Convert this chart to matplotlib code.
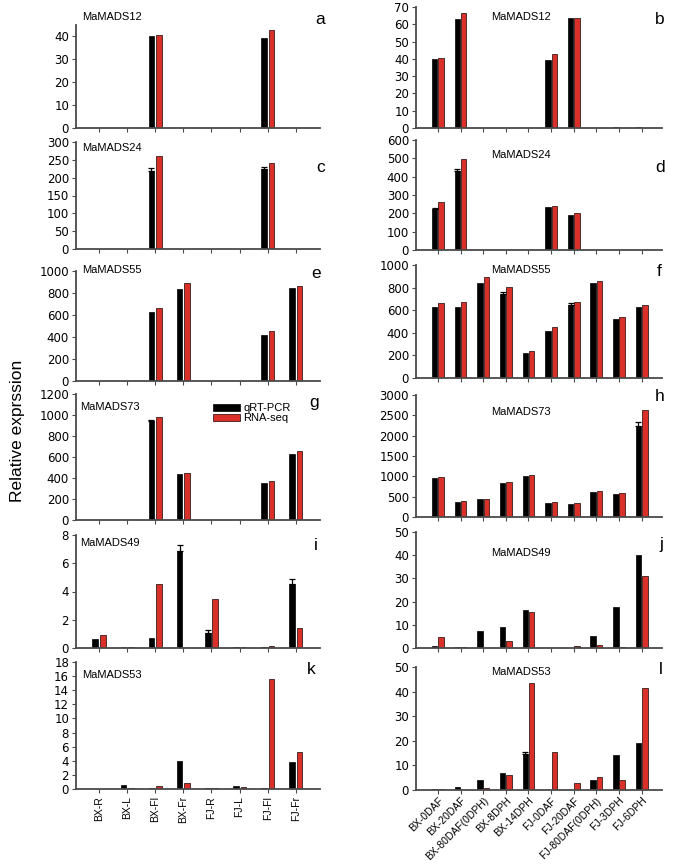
import matplotlib.pyplot as plt
import numpy as np

plt.rcParams['font.family'] = ['Liberation Sans', 'DejaVu Sans']

tissues = ["BX-R", "BX-L", "BX-Fl", "BX-Fr", "FJ-R", "FJ-L", "FJ-Fl", "FJ-Fr"]
stages = ["BX-0DAF", "BX-20DAF", "BX-80DAF(0DPH)", "BX-8DPH", "BX-14DPH",
          "FJ-0DAF", "FJ-20DAF", "FJ-80DAF(0DPH)", "FJ-3DPH", "FJ-6DPH"]

# tissues (left column): qRT-PCR, qRT-PCR error, RNA-seq
m12_t_q = [0.1, 0.1, 40, 0.1, 0.1, 0.1, 39.5, 0.1]
m12_t_e = [0, 0, 0, 0, 0, 0, 0, 0]
m12_t_r = [0.1, 0.1, 40.5, 0.1, 0.1, 0.1, 43, 0.1]
m24_t_q = [0.5, 0.5, 218, 0.5, 0.5, 0.5, 225, 0.5]
m24_t_e = [0, 0, 8, 0, 0, 0, 6, 0]
m24_t_r = [0.5, 0.5, 260, 0.5, 0.5, 0.5, 242, 0.5]
m55_t_q = [2, 1, 625, 840, 2, 1, 420, 845]
m55_t_e = [0, 0, 0, 0, 0, 0, 0, 0]
m55_t_r = [1, 1, 665, 895, 1, 1, 455, 862]
m73_t_q = [1, 1, 940, 435, 1, 1, 350, 625]
m73_t_e = [0, 0, 15, 0, 0, 0, 0, 0]
m73_t_r = [1, 1, 985, 450, 1, 1, 375, 655]
m49_t_q = [0.65, 0.05, 0.7, 6.85, 1.05, 0.05, 0.08, 4.5]
m49_t_e = [0, 0, 0, 0.45, 0.25, 0, 0, 0.4]
m49_t_r = [0.9, 0.05, 4.55, 0.0, 3.5, 0.05, 0.15, 1.45]
m53_t_q = [0.0, 0.5, 0.2, 3.9, 0.15, 0.4, 0.1, 3.85]
m53_t_e = [0, 0, 0, 0, 0, 0, 0, 0]
m53_t_r = [0.0, 0.2, 0.45, 0.8, 0.1, 0.25, 15.6, 5.3]

# developmental stages (right column)
m12_s_q = [40, 63, 0.1, 0.1, 0.1, 39.5, 63.5, 0.1, 0.3, 0.3]
m12_s_e = [0, 0, 0, 0, 0, 0, 0, 0, 0, 0]
m12_s_r = [40.5, 66.5, 0.1, 0.1, 0.1, 43, 63.5, 0.1, 0.1, 0.1]
m24_s_q = [222, 432, 1, 1, 1, 232, 190, 1, 1, 1]
m24_s_e = [8, 10, 0, 0, 0, 0, 0, 0, 0, 0]
m24_s_r = [260, 495, 1, 1, 1, 242, 202, 1, 1, 1]
m55_s_q = [625, 625, 840, 745, 220, 420, 650, 840, 525, 630]
m55_s_e = [0, 0, 0, 15, 0, 0, 10, 0, 0, 0]
m55_s_r = [665, 670, 895, 805, 235, 455, 672, 862, 540, 648]
m73_s_q = [960, 370, 435, 840, 1010, 350, 325, 620, 560, 2250]
m73_s_e = [0, 0, 0, 0, 0, 0, 0, 0, 0, 80]
m73_s_r = [990, 400, 450, 860, 1045, 375, 335, 650, 590, 2640]
m49_s_q = [0.7, 0.5, 7.4, 8.9, 16.4, 0.1, 0.1, 5.0, 17.7, 40]
m49_s_e = [0, 0, 0, 0, 0, 0, 0, 0, 0, 0]
m49_s_r = [4.6, 0.5, 0.0, 2.9, 15.4, 0.1, 0.9, 1.4, 0.3, 31]
m53_s_q = [0.3, 1.2, 4.0, 7.0, 14.5, 0.1, 0.1, 4.0, 14.2, 19]
m53_s_e = [0, 0, 0, 0, 1.0, 0, 0, 0, 0, 0]
m53_s_r = [0.5, 0.2, 0.8, 6.0, 43.5, 15.5, 2.8, 5.3, 4.2, 41.3]

W, H = 675, 864
fig = plt.figure(figsize=(W / 100, H / 100), dpi=100)

def add_ax(x0, x1, top, bottom):
    return fig.add_axes([x0 / W, 1 - bottom / H, (x1 - x0) / W, (bottom - top) / H])

def px_text(x, y, s, **kw):
    return fig.text(x / W, 1 - y / H, s, **kw)

# axes top/bottom (px), ylim, yticks, gene, letter, gene label pos, letter pos
left = [
    (25, 128, 45, np.arange(0, 41, 10), "MaMADS12", "a", (82, 17), (325, 20), m12_t_q, m12_t_e, m12_t_r),
    (142, 249, 300, np.arange(0, 301, 50), "MaMADS24", "c", (82, 148), (325, 168), m24_t_q, m24_t_e, m24_t_r),
    (271, 381, 1000, np.arange(0, 1001, 200), "MaMADS55", "e", (82, 270), (321, 273), m55_t_q, m55_t_e, m55_t_r),
    (394, 520, 1200, np.arange(0, 1201, 200), "MaMADS73", "g", (80, 407), (319, 402), m73_t_q, m73_t_e, m73_t_r),
    (535, 648, 8, np.arange(0, 9, 2), "MaMADS49", "i", (80, 543), (318, 545), m49_t_q, m49_t_e, m49_t_r),
    (662, 789, 18, np.arange(0, 19, 2), "MaMADS53", "k", (82, 675), (316, 670), m53_t_q, m53_t_e, m53_t_r),
]
right = [
    (7, 128, 70, np.arange(0, 71, 10), "MaMADS12", "b", (521, 17), (665, 20), m12_s_q, m12_s_e, m12_s_r),
    (140, 250, 600, np.arange(0, 601, 100), "MaMADS24", "d", (521, 155), (665, 167), m24_s_q, m24_s_e, m24_s_r),
    (265, 378, 1000, np.arange(0, 1001, 200), "MaMADS55", "f", (521, 270), (662, 272), m55_s_q, m55_s_e, m55_s_r),
    (395, 517, 3000, np.arange(0, 3001, 500), "MaMADS73", "h", (521, 412), (665, 397), m73_s_q, m73_s_e, m73_s_r),
    (532, 648, 50, np.arange(0, 51, 10), "MaMADS49", "j", (521, 553), (663, 545), m49_s_q, m49_s_e, m49_s_r),
    (667, 790, 50, np.arange(0, 51, 10), "MaMADS53", "l", (521, 672), (663, 670), m53_s_q, m53_s_e, m53_s_r),
]

red = "#d9302a"
axis_col = "#4a4a4a"

def draw_panel(ax, labels, p, bw, off, xlim, name_ha):
    top, bottom, ymax, yt, name, letter, npos, lpos, q, e, r = p
    x = np.arange(len(labels))
    ax.bar(x - off, q, bw, color="black", edgecolor="black", linewidth=0.5, label="qRT-PCR")
    ax.bar(x + off, r, bw, color=red, edgecolor="#3a1c1c", linewidth=0.6, label="RNA-seq")
    e = np.array(e, dtype=float)
    m = e > 0
    if m.any():
        ax.errorbar(x[m] - off, np.array(q)[m], yerr=[np.zeros(m.sum()), e[m]],
                    fmt="none", ecolor="black", elinewidth=0.9, capsize=2, capthick=0.9)
    ax.set_xlim(*xlim)
    ax.set_ylim(0, ymax)
    ax.set_yticks(yt)
    ax.set_xticks(x)
    ax.set_xticklabels([])
    for s in ["top", "right"]:
        ax.spines[s].set_visible(False)
    for s in ["left", "bottom"]:
        ax.spines[s].set_color(axis_col)
        ax.spines[s].set_linewidth(1.3)
    ax.tick_params(axis="both", colors=axis_col, length=3, width=0.8, labelcolor="black",
                   labelsize=8.5, pad=2)
    for t in ax.get_yticklabels():
        t.set_family("DejaVu Sans")
    px_text(npos[0], npos[1], name, ha=name_ha, va="center", fontsize=8)
    px_text(lpos[0], lpos[1], letter, ha="right", va="center", fontsize=12.5)
    return ax

axes_l = []
for p in left:
    ax = add_ax(76, 320, p[0], p[1])
    draw_panel(ax, tissues, p, 0.2, 0.135, (-0.82, 7.86), "left")
    axes_l.append(ax)

axes_r = []
for p in right:
    ax = add_ax(416, 662, p[0], p[1])
    draw_panel(ax, stages, p, 0.24, 0.14, (-0.97, 9.9), "center")
    axes_r.append(ax)

# legend in panel g
axes_l[3].legend(loc="upper left", bbox_to_anchor=(0.54, 0.97), frameon=False, fontsize=8,
                 handlelength=2.4, handleheight=0.55, labelspacing=0.0, borderpad=0, handletextpad=0.3)

axes_l[-1].set_xticklabels(tissues, rotation=90, fontsize=7.5, ha="center", va="top")
axes_r[-1].set_xticklabels(stages, rotation=45, fontsize=7.5, ha="right", va="top",
                           rotation_mode="anchor")
axes_r[-1].tick_params(axis="x", pad=1)

px_text(18, 431, "Relative exprssion", rotation=90, ha="center", va="center", fontsize=12.5)

fig.savefig("out.png", dpi=100)
